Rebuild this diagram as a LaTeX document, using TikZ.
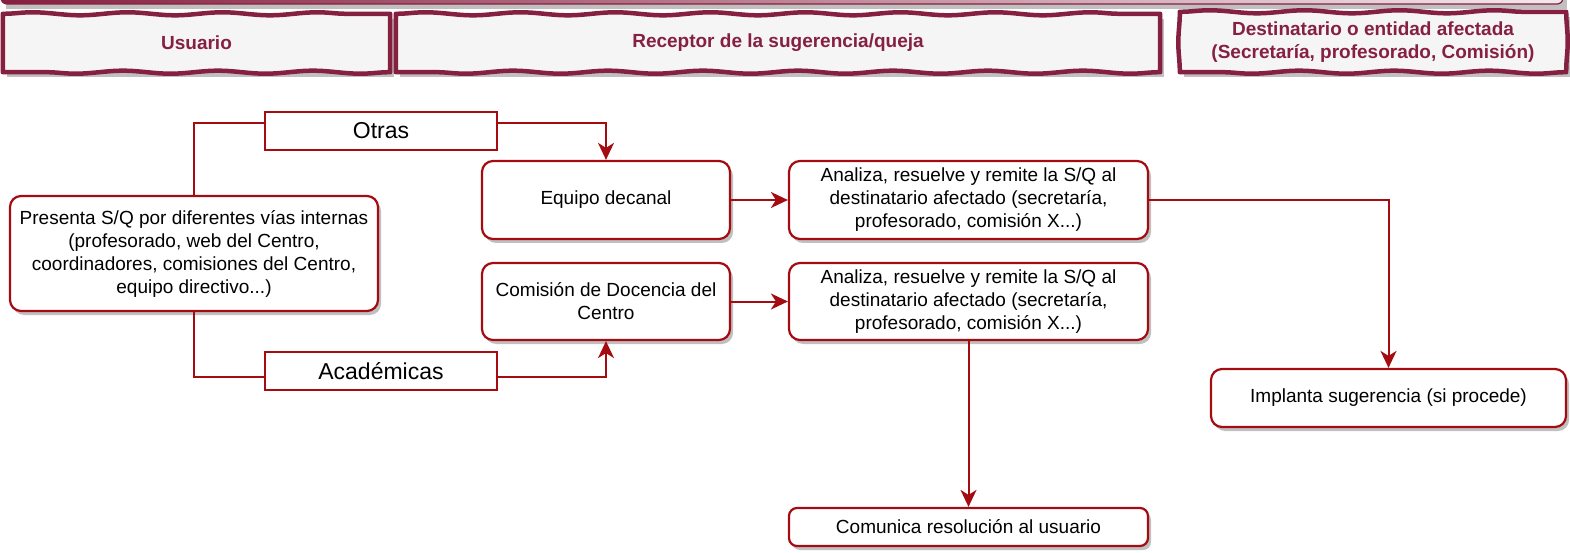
\documentclass[tikz,border=0pt]{standalone}
\usepackage{fontspec}
\setmainfont{Liberation Sans}
\usetikzlibrary{arrows.meta,calc,decorations.pathmorphing,shadows}
\definecolor{hdr}{RGB}{134,32,65}
\definecolor{hdrfill}{RGB}{245,245,245}
\definecolor{rojo}{RGB}{165,12,18}
\definecolor{sombra}{RGB}{192,192,192}

\begin{document}
\begin{tikzpicture}[x=1pt,y=-1pt,
    hdrbox/.style={fill=hdrfill, text=hdr, align=center,
        font=\bfseries\fontsize{19}{23}\selectfont, inner sep=0pt,
        drop shadow={shadow xshift=4pt, shadow yshift=-5pt, fill=sombra, opacity=1}},
    hdrline/.style={draw=hdr, line width=4.5pt, line cap=round, line join=round,
        decoration={snake, segment length=95pt, amplitude=1.5pt}},
    caja/.style={draw=rojo, line width=2.2pt, fill=white, rounded corners=11pt, align=center,
        font=\fontsize{19}{23}\selectfont, inner sep=0pt,
        drop shadow={shadow xshift=3pt, shadow yshift=-4pt, fill=sombra, opacity=1}},
    tipo/.style={draw=rojo, line width=2.2pt, fill=white, inner sep=0pt,
        font=\fontsize{23}{27}\selectfont, minimum width=232pt, minimum height=38pt},
    conn/.style={draw=rojo, line width=2pt},
    flecha/.style={conn, -{Stealth[length=17pt, width=16pt, inset=5pt]}}]

    \useasboundingbox (0,0) rectangle (1570,553);
    \clip (0,0) rectangle (1570,553);

    % barra del titulo (cortada)
    \fill[sombra] (6,-20) rectangle (1567,9);
    \shadedraw[left color=hdr, right color=hdr!10, draw=hdr, line width=1.2pt, rounded corners=6pt]
        (1,-30) rectangle (1563,4);

    % cabeceras
    \node[hdrbox, minimum width=387pt, minimum height=58pt] (hUsu) at (196.5,43) {Usuario};
    \node[hdrbox, minimum width=764pt, minimum height=58pt] (hRec) at (778,43) {Receptor de la sugerencia/queja};
    \node[hdrbox, minimum width=386pt, minimum height=60pt] (hDest) at (1373,42)
        {Destinatario o entidad afectada\\(Secretaría, profesorado, Comisión)};
    \foreach \h in {hUsu,hRec,hDest}
        \draw[hdrline] (\h.north west) decorate{-- (\h.north east)} decorate{-- (\h.south east)}
            decorate{-- (\h.south west)} decorate{-- (\h.north west)};

    % nodos
    \node[caja, minimum width=368pt, minimum height=115pt] (pres) at (194,253.5)
        {Presenta S/Q por diferentes vías internas\\(profesorado, web del Centro,\\coordinadores, comisiones del Centro,\\equipo directivo...)};
    \node[tipo] (otras) at (381,131) {Otras};
    \node[tipo] (acad) at (381,371) {Académicas};
    \node[caja, minimum width=248pt, minimum height=78pt] (equipo) at (606,200) {Equipo decanal};
    \node[caja, minimum width=248pt, minimum height=77pt] (comision) at (606,301.5)
        {Comisión de Docencia del\\Centro};
    \node[caja, minimum width=359pt, minimum height=78pt] (ana1) at (968.5,200)
        {Analiza, resuelve y remite la S/Q al\\destinatario afectado (secretaría,\\profesorado, comisión X...)};
    \node[caja, minimum width=359pt, minimum height=77pt] (ana2) at (968.5,301.5)
        {Analiza, resuelve y remite la S/Q al\\destinatario afectado (secretaría,\\profesorado, comisión X...)};
    \node[caja, minimum width=355pt, minimum height=58pt] (impl) at (1388.5,398)
        {Implanta sugerencia (si procede)};
    \node[caja, minimum width=359pt, minimum height=38pt, rounded corners=8pt] (comu) at (968.5,527)
        {Comunica resolución al usuario};

    \coordinate (otrasIn) at ($(otras.west)+(0,-8)$);
    \coordinate (otrasOut) at ($(otras.east)+(0,-8)$);
    \coordinate (acadIn) at ($(acad.west)+(0,6)$);
    \coordinate (acadOut) at ($(acad.east)+(0,6)$);

    % conexiones
    \draw[conn] (pres.north) |- (otrasIn);
    \draw[flecha] (otrasOut) -| (equipo.north);
    \draw[conn] (pres.south) |- (acadIn);
    \draw[flecha] (acadOut) -| (comision.south);
    \draw[flecha] (equipo) -- (ana1);
    \draw[flecha] (comision) -- (ana2);
    \draw[flecha] (ana1.east) -| (impl.north);
    \draw[flecha] (ana2.south) -- (comu.north);
\end{tikzpicture}
\end{document}
